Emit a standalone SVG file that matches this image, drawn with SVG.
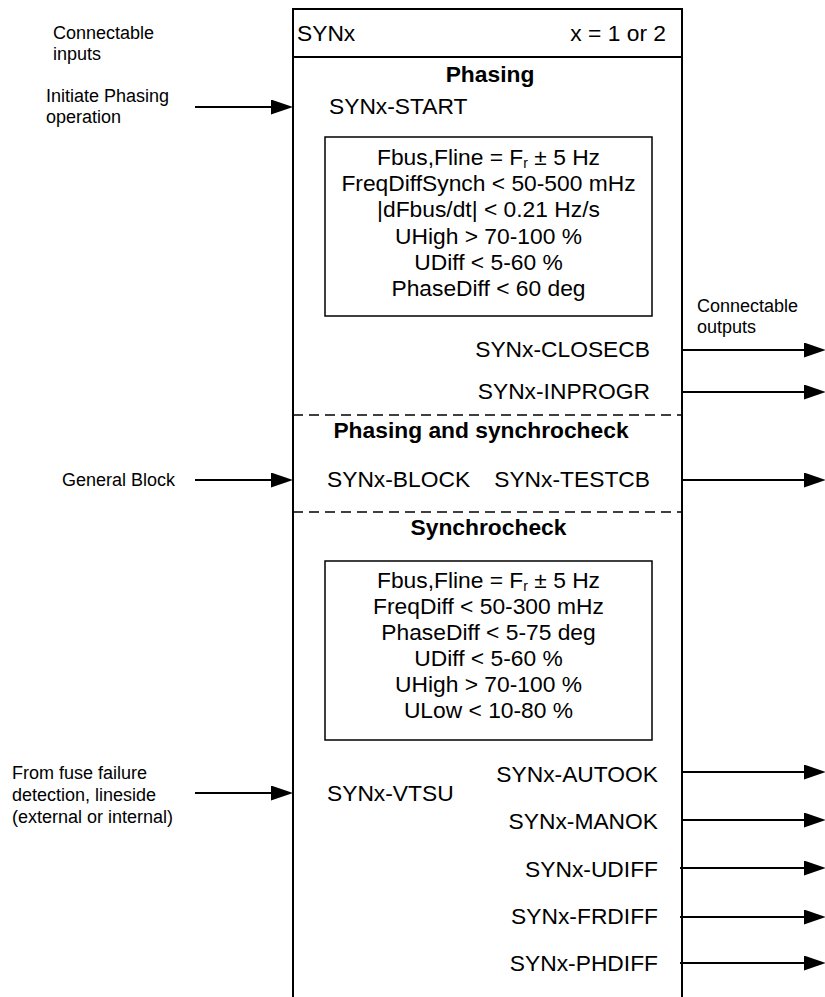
<svg xmlns="http://www.w3.org/2000/svg" width="825" height="997" viewBox="0 0 825 997">
<defs>
<marker id="ah" markerWidth="22" markerHeight="15" refX="0" refY="7.5" orient="auto" markerUnits="userSpaceOnUse"><path d="M0,0 L22,7.5 L0,15 z" fill="#000"/></marker>
<style>
text{font-family:"Liberation Sans",Arial,Helvetica,sans-serif;fill:#000}
.m{font-size:22.8px}
.b{font-size:22.8px;font-weight:bold;text-anchor:middle}
.s{font-size:18px}
.c{text-anchor:middle}
.r{text-anchor:end}
.sub{font-size:14px}
.box{fill:none;stroke:#000;stroke-width:2}
.ib{fill:none;stroke:#000;stroke-width:1.5}
.dash{stroke:#000;stroke-width:1.5;stroke-dasharray:10 6;fill:none}
.ar{stroke:#000;stroke-width:2;fill:none;marker-end:url(#ah)}
</style>
</defs>
<rect width="825" height="997" fill="#fff"/>
<g id="syn-block">
<path class="box" d="M293,997 V9 H682 V997 M293,57 H682"/>
<text class="m" x="297" y="41">SYNx</text>
<text class="m r" x="666" y="41">x = 1 or 2</text>
</g>
<g id="phasing">
<text class="b" x="490" y="82">Phasing</text>
<text class="m" x="329" y="114">SYNx-START</text>
<rect class="ib" x="325" y="137" width="327" height="179"/>
<text class="m c" x="488.5" y="165">Fbus,Fline = F<tspan class="sub" dy="3">r</tspan><tspan dy="-3"> ± 5 Hz</tspan></text>
<text class="m c" x="488.5" y="191">FreqDiffSynch &lt; 50-500 mHz</text>
<text class="m c" x="488.5" y="217">|dFbus/dt| &lt; 0.21 Hz/s</text>
<text class="m c" x="488.5" y="244">UHigh &gt; 70-100 %</text>
<text class="m c" x="488.5" y="270">UDiff &lt; 5-60 %</text>
<text class="m c" x="488.5" y="296">PhaseDiff &lt; 60 deg</text>
<text class="m r" x="650" y="357">SYNx-CLOSECB</text>
<text class="m r" x="650" y="399">SYNx-INPROGR</text>
<line class="dash" x1="293" y1="415" x2="682" y2="415"/>
</g>
<g id="phasing-synchrocheck">
<text class="b" x="481" y="438">Phasing and synchrocheck</text>
<text class="m" x="327" y="487">SYNx-BLOCK</text>
<text class="m r" x="650" y="487">SYNx-TESTCB</text>
<line class="dash" x1="293" y1="512" x2="682" y2="512"/>
</g>
<g id="synchrocheck">
<text class="b" x="488.5" y="535">Synchrocheck</text>
<rect class="ib" x="325" y="561" width="327" height="179"/>
<text class="m c" x="488.5" y="588">Fbus,Fline = F<tspan class="sub" dy="3">r</tspan><tspan dy="-3"> ± 5 Hz</tspan></text>
<text class="m c" x="488.5" y="614">FreqDiff &lt; 50-300 mHz</text>
<text class="m c" x="488.5" y="640">PhaseDiff &lt; 5-75 deg</text>
<text class="m c" x="488.5" y="666">UDiff &lt; 5-60 %</text>
<text class="m c" x="488.5" y="692">UHigh &gt; 70-100 %</text>
<text class="m c" x="488.5" y="718">ULow &lt; 10-80 %</text>
<text class="m" x="327" y="801">SYNx-VTSU</text>
<text class="m r" x="658" y="782">SYNx-AUTOOK</text>
<text class="m r" x="658" y="829">SYNx-MANOK</text>
<text class="m r" x="658" y="877">SYNx-UDIFF</text>
<text class="m r" x="658" y="924">SYNx-FRDIFF</text>
<text class="m r" x="658" y="971">SYNx-PHDIFF</text>
</g>
<g id="labels">
<text class="s" x="53" y="39">Connectable</text>
<text class="s" x="53" y="60">inputs</text>
<text class="s" x="46" y="102">Initiate Phasing</text>
<text class="s" x="46" y="123">operation</text>
<text class="s" x="62" y="486">General Block</text>
<text class="s" x="12" y="779">From fuse failure</text>
<text class="s" x="12" y="801">detection, lineside</text>
<text class="s" x="12" y="823">(external or internal)</text>
<text class="s" x="697" y="312">Connectable</text>
<text class="s" x="697" y="333">outputs</text>
</g>
<g id="connectors">
<line class="ar" x1="195" y1="107" x2="271" y2="107"/>
<line class="ar" x1="195" y1="480" x2="271" y2="480"/>
<line class="ar" x1="195" y1="793" x2="271" y2="793"/>
<line class="ar" x1="682" y1="350" x2="804" y2="350"/>
<line class="ar" x1="682" y1="392" x2="804" y2="392"/>
<line class="ar" x1="682" y1="480" x2="804" y2="480"/>
<line class="ar" x1="682" y1="772" x2="804" y2="772"/>
<line class="ar" x1="682" y1="820" x2="804" y2="820"/>
<line class="ar" x1="680" y1="868" x2="804" y2="868"/>
<line class="ar" x1="680" y1="917" x2="804" y2="917"/>
<line class="ar" x1="680" y1="963" x2="804" y2="963"/>
</g>
</svg>
